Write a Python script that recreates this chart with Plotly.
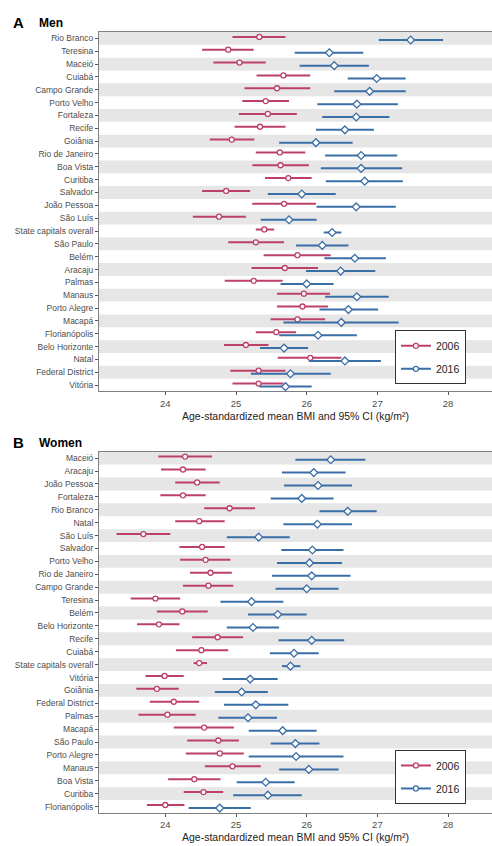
import plotly.graph_objects as go
from plotly.subplots import make_subplots

# ---- Men: state capitals, age-standardized mean BMI (kg/m²) with 95% CI ----
men_cities = ["Rio Branco", "Teresina", "Maceió", "Cuiabá", "Campo Grande", "Porto Velho",
              "Fortaleza", "Recife", "Goiânia", "Rio de Janeiro", "Boa Vista", "Curitiba",
              "Salvador", "João Pessoa", "São Luís", "State capitals overall", "São Paulo",
              "Belém", "Aracaju", "Palmas", "Manaus", "Porto Alegre", "Macapá",
              "Florianópolis", "Belo Horizonte", "Natal", "Federal District", "Vitória"]
men_2006_mean = [25.33, 24.89, 25.05, 25.67, 25.58, 25.42, 25.45, 25.34, 24.94, 25.62, 25.63, 25.74,
                 24.86, 25.68, 24.76, 25.40, 25.28, 25.87, 25.69, 25.25, 25.96, 25.94, 25.87,
                 25.57, 25.14, 26.05, 25.32, 25.32]
men_2006_lo = [24.95, 24.52, 24.68, 25.29, 25.12, 25.09, 25.04, 24.98, 24.63, 25.28, 25.23, 25.41,
               24.52, 25.23, 24.39, 25.28, 24.89, 25.39, 25.22, 24.84, 25.58, 25.58, 25.49,
               25.28, 24.83, 25.59, 24.92, 24.95]
men_2006_hi = [25.70, 25.25, 25.42, 26.05, 26.05, 25.75, 25.86, 25.70, 25.26, 25.98, 26.03, 26.07,
               25.20, 26.13, 25.14, 25.54, 25.68, 26.34, 26.16, 25.66, 26.33, 26.30, 26.26,
               25.85, 25.46, 26.49, 25.70, 25.67]
men_2016_mean = [27.47, 26.32, 26.39, 26.99, 26.89, 26.71, 26.70, 26.54, 26.13, 26.77, 26.77, 26.82,
                 25.93, 26.70, 25.75, 26.36, 26.22, 26.68, 26.48, 26.00, 26.71, 26.59, 26.49,
                 26.16, 25.68, 26.54, 25.77, 25.70]
men_2016_lo = [27.02, 25.83, 25.90, 26.58, 26.39, 26.15, 26.22, 26.13, 25.61, 26.26, 26.20, 26.27,
               25.45, 26.14, 25.35, 26.24, 25.85, 26.25, 25.99, 25.63, 26.26, 26.18, 25.67,
               25.61, 25.34, 26.03, 25.21, 25.33]
men_2016_hi = [27.93, 26.80, 26.88, 27.40, 27.40, 27.29, 27.17, 26.95, 26.65, 27.28, 27.35, 27.36,
               26.41, 27.26, 26.14, 26.49, 26.59, 27.12, 26.97, 26.38, 27.16, 27.01, 27.30,
               26.71, 26.02, 27.05, 26.34, 26.07]

# ---- Women ----
women_cities = ["Maceió", "Aracaju", "João Pessoa", "Fortaleza", "Rio Branco", "Natal", "São Luís",
                "Salvador", "Porto Velho", "Rio de Janeiro", "Campo Grande", "Teresina", "Belém",
                "Belo Horizonte", "Recife", "Cuiabá", "State capitals overall", "Vitória", "Goiânia",
                "Federal District", "Palmas", "Macapá", "São Paulo", "Porto Alegre", "Manaus",
                "Boa Vista", "Curitiba", "Florianópolis"]
women_2006_mean = [24.28, 24.25, 24.45, 24.25, 24.91, 24.48, 23.69, 24.52, 24.57, 24.64, 24.61, 23.86,
                   24.24, 23.91, 24.74, 24.51, 24.48, 23.99, 23.88, 24.12, 24.03, 24.55, 24.75,
                   24.77, 24.95, 24.41, 24.54, 24.00]
women_2006_lo = [23.90, 23.94, 24.14, 23.93, 24.55, 24.14, 23.31, 24.20, 24.21, 24.35, 24.25, 23.51,
                 23.88, 23.60, 24.38, 24.15, 24.40, 23.72, 23.59, 23.78, 23.62, 24.12, 24.31,
                 24.29, 24.56, 24.04, 24.26, 23.74]
women_2006_hi = [24.66, 24.57, 24.77, 24.57, 25.27, 24.84, 24.07, 24.84, 24.92, 24.94, 24.96, 24.21,
                 24.60, 24.20, 25.10, 24.89, 24.59, 24.26, 24.19, 24.48, 24.43, 24.97, 25.04,
                 25.11, 25.35, 24.78, 24.82, 24.27]
women_2016_mean = [26.34, 26.10, 26.16, 25.93, 26.58, 26.15, 25.32, 26.08, 26.04, 26.07, 26.00, 25.22,
                   25.59, 25.24, 26.07, 25.82, 25.77, 25.20, 25.08, 25.28, 25.17, 25.66, 25.84,
                   25.85, 26.03, 25.42, 25.45, 24.77]
women_2016_lo = [25.84, 25.65, 25.68, 25.49, 26.18, 25.67, 24.87, 25.64, 25.58, 25.51, 25.56, 24.78,
                 25.17, 24.87, 25.60, 25.48, 25.65, 24.81, 24.70, 24.83, 24.75, 25.18, 25.49,
                 25.18, 25.61, 25.01, 24.96, 24.33]
women_2016_hi = [26.83, 26.55, 26.64, 26.38, 26.99, 26.64, 25.76, 26.52, 26.50, 26.62, 26.45, 25.67,
                 26.00, 25.61, 26.53, 26.17, 25.91, 25.59, 25.45, 25.74, 25.58, 26.14, 26.18,
                 26.52, 26.45, 25.83, 25.93, 25.21]

x_ticks = [24, 25, 26, 27, 28]
x_title = "Age-standardized mean BMI and 95% CI (kg/m²)"

RED = "#bd4066"
BLUE = "#3a6ea6"
BAND = "#e6e6e6"
FRAME = "#808080"
FONT = "Liberation Sans, Arial, sans-serif"
DODGE = 0.12  # vertical separation of the two survey years within a row

fig = make_subplots(rows=2, cols=1, vertical_spacing=0.08)

panels = [
    (1, men_cities, (men_2006_mean, men_2006_lo, men_2006_hi),
     (men_2016_mean, men_2016_lo, men_2016_hi), "legend"),
    (2, women_cities, (women_2006_mean, women_2006_lo, women_2006_hi),
     (women_2016_mean, women_2016_lo, women_2016_hi), "legend2"),
]

for row, cities, s06, s16, leg in panels:
    idx = list(range(len(cities)))
    series = [("2006", s06, RED, "circle", -DODGE), ("2016", s16, BLUE, "diamond", DODGE)]
    for name, (mean, lo, hi), color, symbol, off in series:
        fig.add_trace(go.Scatter(
            x=mean, y=[i + off for i in idx], mode="markers", showlegend=False,
            error_x=dict(type="data", symmetric=False,
                         array=[h - m for h, m in zip(hi, mean)],
                         arrayminus=[m - l for m, l in zip(mean, lo)],
                         color=color, thickness=2, width=0),
            marker=dict(symbol=symbol, size=6 if symbol == "diamond" else 5,
                        color="white", line=dict(color=color, width=1.3)),
            hovertemplate="%{x:.2f}<extra>" + name + "</extra>"),
            row=row, col=1)
        # legend key: line with the open marker in the middle
        fig.add_trace(go.Scatter(
            x=[None], y=[None], mode="lines+markers", name=name, legend=leg,
            legendgroup=f"{leg}-{name}",
            line=dict(color=color, width=2),
            marker=dict(symbol="circle", size=5, color="white",
                        line=dict(color=color, width=1.3))),
            row=row, col=1)
    # alternating row bands
    for i in idx[::2]:
        fig.add_shape(type="rect", xref=f"x{'' if row == 1 else row} domain",
                      yref=f"y{'' if row == 1 else row}",
                      x0=0, x1=1, y0=i - 0.5, y1=i + 0.5,
                      fillcolor=BAND, line_width=0, layer="below")
    fig.update_yaxes(tickmode="array", tickvals=idx, ticktext=cities,
                     range=[len(cities) - 0.5, -0.5], showgrid=False, zeroline=False,
                     ticks="outside", ticklen=3, tickcolor="#555", showline=True,
                     linecolor=FRAME, linewidth=1,
                     tickfont=dict(size=8.5, color="#4d4d4d", family=FONT),
                     row=row, col=1)
    fig.update_xaxes(range=[23.062, 28.621], tickvals=x_ticks, showgrid=False,
                     zeroline=False, ticks="outside", ticklen=3, tickcolor="#555",
                     showline=True, mirror=True, linecolor=FRAME, linewidth=1,
                     tickfont=dict(size=9.5, color="#4d4d4d", family=FONT),
                     title=dict(text=x_title, standoff=4,
                                font=dict(size=10.5, color="#222", family=FONT)),
                     row=row, col=1)

legend_style = dict(xanchor="left", yanchor="top", bordercolor="#333", borderwidth=1,
                    bgcolor="white", font=dict(size=10.5, color="#222", family=FONT),
                    traceorder="grouped", tracegroupgap=4)

fig.update_layout(
    width=492, height=846, margin=dict(l=99, r=0, t=32, b=33),
    paper_bgcolor="white", plot_bgcolor="white",
    font=dict(family=FONT),
    xaxis=dict(domain=[0, 1]), yaxis=dict(domain=[0.5397, 1.0]),
    xaxis2=dict(domain=[0, 1]), yaxis2=dict(domain=[0.0, 0.4626]),
    legend=dict(x=0.753, y=0.618, **legend_style),
    legend2=dict(x=0.753, y=0.0807, **legend_style),
    annotations=[
        dict(text="<b>A</b>", x=-0.225, y=1.012, xref="paper", yref="paper",
             xanchor="left", yanchor="middle", showarrow=False,
             font=dict(size=15, color="black", family=FONT)),
        dict(text="<b>Men</b>", x=-0.158, y=1.012, xref="paper", yref="paper",
             xanchor="left", yanchor="middle", showarrow=False,
             font=dict(size=12, color="black", family=FONT)),
        dict(text="<b>B</b>", x=-0.225, y=0.4738, xref="paper", yref="paper",
             xanchor="left", yanchor="middle", showarrow=False,
             font=dict(size=15, color="black", family=FONT)),
        dict(text="<b>Women</b>", x=-0.158, y=0.4738, xref="paper", yref="paper",
             xanchor="left", yanchor="middle", showarrow=False,
             font=dict(size=12, color="black", family=FONT)),
    ],
)

fig.write_html("out.html")
